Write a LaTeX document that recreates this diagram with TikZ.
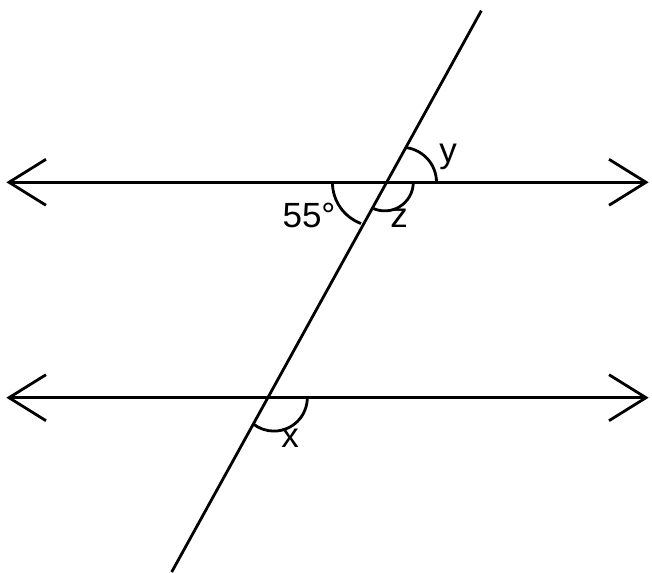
\documentclass[tikz,border=0pt]{standalone}
\usepackage{fontspec}
\setmainfont{Liberation Sans}
\usetikzlibrary{calc}
\begin{document}
\begin{tikzpicture}[x=1pt,y=1pt,
  geo/.style={line width=2.8pt, black},
  lbl/.style={anchor=base, inner sep=0pt, font=\fontsize{35}{40}\selectfont}]
\useasboundingbox (0,0) rectangle (652,572);
% named points
\coordinate (TL) at (9,389.7);
\coordinate (TR) at (646,389.7);
\coordinate (BL) at (9,174.3);
\coordinate (BR) at (646,174.3);
\coordinate (Ttop) at (481.3,561.3);
\coordinate (Tbot) at (171.7,0);
% parallel lines
\draw[geo] (TL) -- (TR);
\draw[geo] (BL) -- (BR);
% arrowheads
\draw[geo] ($(TL)+(37,23)$) -- (TL) -- ($(TL)+(37,-23)$);
\draw[geo] ($(TR)+(-37,23)$) -- (TR) -- ($(TR)+(-37,-23)$);
\draw[geo] ($(BL)+(37,23)$) -- (BL) -- ($(BL)+(37,-23)$);
\draw[geo] ($(BR)+(-37,23)$) -- (BR) -- ($(BR)+(-37,-23)$);
% transversal
\draw[geo] (Ttop) -- (Tbot);
% angle arcs
\draw[geo] (436.5,389.7) arc[start angle=0, end angle=82, radius=35];
\draw[geo] (413.3,389.7) arc[start angle=0, end angle=-113.4, radius=28.6];
\draw[geo] (332.4,389.7) arc[start angle=180, end angle=249.5, radius=44];
\draw[geo] (307.3,174.3) arc[start angle=0, end angle=-128, radius=33.4];
% labels
\node[lbl] (ly) at (448,409) {y};
\node[lbl] (lz) at (399,344) {z};
\node[lbl] (l55) at (309,344) {55°};
\node[lbl] (lx) at (290,124) {x};
\end{tikzpicture}
\end{document}
